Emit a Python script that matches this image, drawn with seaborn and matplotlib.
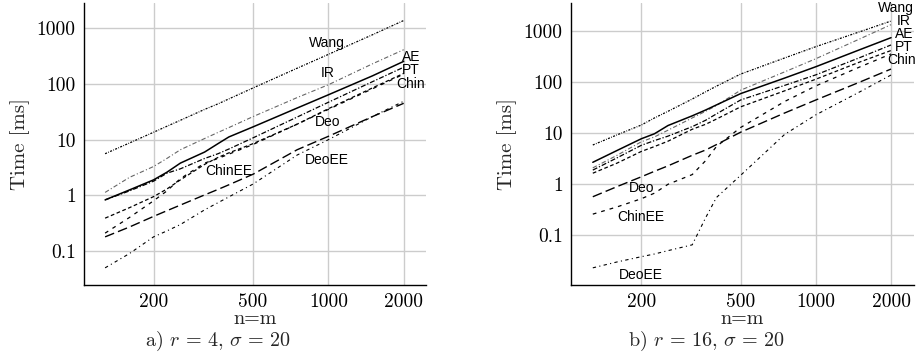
import numpy as np
import pandas as pd
import matplotlib
matplotlib.use("Agg")
import matplotlib.pyplot as plt
import seaborn as sns

# ---------------- data ----------------
n_values = [128, 160, 200, 226, 256, 320, 362, 400, 500, 750, 1000, 1500, 2000]

# panel a) r = 4, sigma = 20
a_wang = [5.6, 8.7, 13.6, 17.4, 22.3, 35, 44, 54, 85, 192, 340, 765, 1380]
a_ir = [1.13, 2.1, 3.3, 4.6, 6.6, 10.5, 13.5, 16.5, 26, 57, 97, 230, 413]
a_ae = [0.83, 1.25, 1.9, 2.6, 3.8, 6.0, 8.5, 11.2, 17, 37, 64, 140, 255]
a_pt = [0.83, 1.2, 1.8, 2.5, 3.0, 4.6, 5.6, 6.8, 10.8, 25.5, 47, 110, 200]
a_chin = [0.39, 0.6, 0.95, 1.3, 1.9, 3.6, 4.8, 5.8, 8.5, 19, 36, 85, 155]
a_chinee = [0.21, 0.4, 0.8, 1.2, 2.0, 3.8, 4.6, 5.5, 8.2, 19, 35, 82, 150]
a_deo = [0.18, 0.27, 0.42, 0.53, 0.67, 1.02, 1.28, 1.55, 2.4, 6.6, 11.5, 26, 45]
a_deoee = [0.05, 0.09, 0.18, 0.23, 0.3, 0.55, 0.74, 0.94, 1.6, 5.3, 10, 26, 49]

# panel b) r = 16, sigma = 20
b_wang = [5.9, 9.3, 14.5, 20, 27, 47, 65, 84, 145, 300, 500, 980, 1590]
b_ir = [2.1, 3.7, 6.8, 8.5, 11.5, 20, 27, 35, 70, 160, 290, 710, 1350]
b_ae = [2.7, 4.6, 7.8, 9.8, 14.2, 22, 28.6, 36, 60, 121, 202, 436, 750]
b_pt = [1.9, 3.3, 5.8, 7.2, 8.8, 13.5, 18, 24, 45, 87, 140, 305, 540]
b_chin = [1.65, 2.6, 4.4, 5.5, 7.0, 12, 15, 19, 33, 68, 115, 250, 420]
b_chinee = [0.26, 0.36, 0.52, 0.67, 1.0, 1.55, 2.9, 5.5, 13, 42, 85, 200, 360]
b_deo = [0.57, 0.9, 1.4, 1.8, 2.3, 3.7, 4.7, 6.0, 10.5, 25, 45, 101, 182]
b_deoee = [0.023, 0.03, 0.038, 0.043, 0.05, 0.065, 0.22, 0.55, 1.5, 9.5, 23, 65, 139]

series_names = ["Wang", "IR", "AE", "PT", "Chin", "ChinEE", "Deo", "DeoEE"]
panel_a = [a_wang, a_ir, a_ae, a_pt, a_chin, a_chinee, a_deo, a_deoee]
panel_b = [b_wang, b_ir, b_ae, b_pt, b_chin, b_chinee, b_deo, b_deoee]

x_ticks = [200, 500, 1000, 2000]
x_tick_labels = ["200", "500", "1000", "2000"]
y_ticks = [0.1, 1, 10, 100, 1000]
y_tick_labels = ["0.1", "1", "10", "100", "1000"]

x_label = "n=m"
y_label = "Time [ms]"
caption_a = r"a) $r\,=\,4,\,\sigma\,=\,20$"
caption_b = r"b) $r\,=\,16,\,\sigma\,=\,20$"

# label positions (data coords)
labels_a = {"Wang": (990, 550), "IR": (990, 160), "AE": (2140, 300), "PT": (2140, 180),
            "Chin": (2140, 100), "Deo": (990, 21), "DeoEE": (985, 4.4), "ChinEE": (398, 2.7)}
labels_b = {"Wang": (2090, 2865), "IR": (2250, 1590), "AE": (2250, 886), "PT": (2250, 490),
            "Chin": (2200, 272), "Deo": (200, 0.835), "ChinEE": (200, 0.23), "DeoEE": (200, 0.0166)}

# ---------------- styles ----------------
styles = {
    "Wang": dict(color="black", lw=0.9, ls=(0, (1.6, 1.1, 0.6, 1.1))),
    "IR": dict(color="#666666", lw=0.8, ls=(0, (4, 2, 1, 2))),
    "AE": dict(color="black", lw=1.1, ls="-"),
    "PT": dict(color="black", lw=0.9, ls=(0, (4, 1.5, 1, 1.5))),
    "Chin": dict(color="black", lw=0.9, ls=(0, (3, 2))),
    "ChinEE": dict(color="black", lw=0.9, ls=(0, (3, 4))),
    "Deo": dict(color="black", lw=1.0, ls=(0, (7, 3))),
    "DeoEE": dict(color="black", lw=0.8, ls=(0, (3, 3, 1, 3))),
}

sns.set_theme(style="white")
plt.rcParams["font.family"] = ["cmr10", "DejaVu Serif"]
plt.rcParams["mathtext.fontset"] = "cm"
plt.rcParams["axes.formatter.use_mathtext"] = True

W, H = 919, 356
fig = plt.figure(figsize=(W / 100, H / 100), dpi=100)

axes_boxes = [
    (84 / W, (H - 285) / H, 342 / W, 282 / H),
    (571 / W, (H - 285) / H, 343 / W, 282 / H),
]
xlims = [(105.4, 2456), (104.7, 2472)]
ylims = [(0.0246, 2846), (0.0106, 3590)]
panels = [panel_a, panel_b]
label_sets = [labels_a, labels_b]

for i in range(2):
    ax = fig.add_axes(axes_boxes[i])
    ax.set_xscale("log")
    ax.set_yscale("log")
    for name, vals in zip(series_names, panels[i]):
        df = pd.DataFrame({"n": n_values, "t": vals})
        st = styles[name]
        sns.lineplot(data=df, x="n", y="t", ax=ax, color=st["color"],
                     linewidth=st["lw"], linestyle=st["ls"], sort=True,
                     estimator=None, zorder=3)
    ax.set_xlim(*xlims[i])
    ax.set_ylim(*ylims[i])
    ax.set_xticks(x_ticks)
    ax.set_xticklabels(x_tick_labels)
    ax.set_yticks(y_ticks)
    ax.set_yticklabels(y_tick_labels)
    ax.xaxis.set_minor_locator(matplotlib.ticker.NullLocator())
    ax.yaxis.set_minor_locator(matplotlib.ticker.NullLocator())
    ax.grid(True, which="major", color="#cccccc", linewidth=1.0, zorder=0)
    ax.tick_params(axis="both", length=0, labelsize=14, pad=6, colors="black")
    for s in ["top", "right"]:
        ax.spines[s].set_visible(False)
    for s in ["left", "bottom"]:
        ax.spines[s].set_color("black")
        ax.spines[s].set_linewidth(1.0)
    ax.set_xlabel(x_label, fontsize=14.5, labelpad=-1)
    ax.set_ylabel(y_label, fontsize=15, labelpad=5)
    ax.set_facecolor("white")
    for name, (lx, ly) in label_sets[i].items():
        ax.text(lx, ly, name, fontsize=10, family=["Liberation Sans", "DejaVu Sans"],
                ha="center", va="center", zorder=5, color="black", clip_on=False)

fig.text(218 / W, 1 - 341 / H, caption_a, fontsize=14.5, ha="center", va="center")
fig.text(707 / W, 1 - 341 / H, caption_b, fontsize=14.5, ha="center", va="center")

fig.savefig("out.png", dpi=100, facecolor="white")
